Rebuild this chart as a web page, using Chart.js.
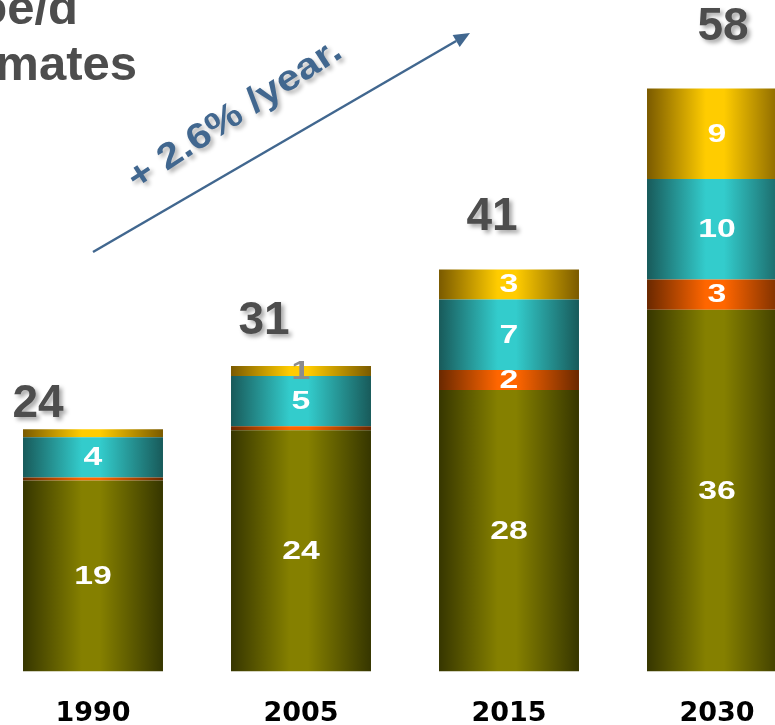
<!DOCTYPE html>
<html>
<head>
<meta charset="utf-8">
<script src="https://cdn.jsdelivr.net/npm/chart.js@4.4.0/dist/chart.umd.min.js"></script>
<style>
    html, body { margin: 0; padding: 0; overflow: hidden; background: #fff; width: 775px; height: 725px; }
    #wrap { position: absolute; left: -11px; top: 0; width: 832px; height: 756px; }
</style>
</head>
<body>
<div id="wrap"><canvas id="chart" width="832" height="756"></canvas></div>
<script>
// Stacked volumes per year (bottom to top)
const years = ['1990', '2005', '2015', '2030'];
const oliveVals = [19, 24, 28, 36];
const orangeVals = [0.3, 0.4, 2, 3];
const tealVals = [4, 5, 7, 10];
const goldVals = [0.8, 1, 3, 9];
const totalLabels = [24, 31, 41, 58];
const growthText = '+ 2.6% /year.';

const BAR_PCT = 0.673;
const SHIFT = 11; // canvas starts 11px left of the page
const LABEL_FONT = '"Liberation Sans", Arial, sans-serif';

// horizontal shading so each bar looks like a cylinder
function cylinder(dark, light) {
    return function(ctx) {
        const chart = ctx.chart;
        const xs = chart.scales.x;
        if (!xs || ctx.type !== 'data') {
            return light;
        }
        const cx = xs.getPixelForValue(ctx.dataIndex);
        const half = xs.width / years.length * BAR_PCT / 2;
        if (!isFinite(cx) || !isFinite(half) || half <= 0) {
            return light;
        }
        const g = chart.ctx.createLinearGradient(cx - half, 0, cx + half, 0);
        g.addColorStop(0, dark);
        g.addColorStop(0.42, light);
        g.addColorStop(0.55, light);
        g.addColorStop(1, dark);
        return g;
    };
}

// value inside each segment, total on top, plus title and growth arrow
const decorations = {
    id: 'decorations',
    afterDatasetsDraw(chart) {
        const ctx = chart.ctx;
        const ys = chart.scales.y;

        // segment values
        chart.data.datasets.forEach((ds, di) => {
            const meta = chart.getDatasetMeta(di);
            meta.data.forEach((bar, i) => {
                const v = ds.data[i];
                if (v < 1) return;
                const h = Math.abs(bar.base - bar.y);
                ctx.save();
                ctx.translate(bar.x, (bar.y + bar.base) / 2 + 1);
                ctx.scale(1.35, 1);
                ctx.font = 'bold 25px ' + LABEL_FONT;
                ctx.textAlign = 'center';
                ctx.textBaseline = 'middle';
                ctx.fillStyle = h < 16 ? '#8c8c8c' : '#ffffff';
                ctx.fillText(String(v), 0, 0);
                ctx.restore();
            });
        });

        // totals above the stacks
        const dx = [-55, -37, -17, 6];
        const dy = [25, 45, 52, 61];
        const lastMeta = chart.getDatasetMeta(chart.data.datasets.length - 1);
        years.forEach((y, i) => {
            let sum = 0;
            chart.data.datasets.forEach(ds => { sum += ds.data[i]; });
            const x = lastMeta.data[i].x + dx[i];
            const py = ys.getPixelForValue(sum) - dy[i];
            ctx.save();
            ctx.font = 'bold 46px ' + LABEL_FONT;
            ctx.textAlign = 'center';
            ctx.textBaseline = 'middle';
            ctx.shadowColor = 'rgba(0,0,0,0.35)';
            ctx.shadowBlur = 4;
            ctx.shadowOffsetX = 3;
            ctx.shadowOffsetY = 3;
            ctx.fillStyle = '#4d4d4d';
            ctx.fillText(String(totalLabels[i]), x, py);
            ctx.restore();
        });

        // title, partly off the left edge
        ctx.save();
        ctx.font = 'bold 49px ' + LABEL_FONT;
        ctx.fillStyle = '#4d4d4d';
        ctx.textAlign = 'right';
        ctx.textBaseline = 'alphabetic';
        ctx.fillText('Mboe/d', 78 + SHIFT, 24);
        ctx.fillText('estimates', 137 + SHIFT, 80);
        ctx.restore();

        // growth arrow
        const x0 = 93 + SHIFT, y0 = 252, x1 = 470 + SHIFT, y1 = 33;
        const ang = Math.atan2(y1 - y0, x1 - x0);
        const headLen = 16, headW = 7;
        const bx = x1 - headLen * Math.cos(ang), by = y1 - headLen * Math.sin(ang);
        ctx.save();
        ctx.strokeStyle = '#41678f';
        ctx.fillStyle = '#41678f';
        ctx.lineWidth = 2.5;
        ctx.beginPath();
        ctx.moveTo(x0, y0);
        ctx.lineTo(bx, by);
        ctx.stroke();
        ctx.beginPath();
        ctx.moveTo(x1, y1);
        ctx.lineTo(bx + headW * Math.sin(ang), by - headW * Math.cos(ang));
        ctx.lineTo(bx - headW * Math.sin(ang), by + headW * Math.cos(ang));
        ctx.closePath();
        ctx.fill();
        ctx.restore();

        ctx.save();
        ctx.translate(235 + SHIFT, 115);
        ctx.rotate(-33 * Math.PI / 180);
        ctx.scale(1.15, 1);
        ctx.font = 'bold 36px ' + LABEL_FONT;
        ctx.textAlign = 'center';
        ctx.textBaseline = 'middle';
        ctx.shadowColor = 'rgba(0,0,0,0.3)';
        ctx.shadowBlur = 4;
        ctx.shadowOffsetX = 3;
        ctx.shadowOffsetY = 3;
        ctx.fillStyle = '#41678f';
        ctx.fillText(growthText, 0, 0);
        ctx.restore();
    }
};

function makeChart() {
    const datasets = [
        { label: 'olive', data: oliveVals, backgroundColor: cylinder('#363600', '#858000') },
        { label: 'orange', data: orangeVals, backgroundColor: cylinder('#6a2800', '#ff6600') },
        { label: 'teal', data: tealVals, backgroundColor: cylinder('#185a5a', '#33cccc') },
        { label: 'gold', data: goldVals, backgroundColor: cylinder('#7a5a00', '#ffcc00') }
    ];
    datasets.forEach(ds => {
        ds.borderWidth = 0;
        ds.barPercentage = BAR_PCT;
        ds.categoryPercentage = 1;
    });

    new Chart(document.getElementById('chart'), {
        type: 'bar',
        data: { labels: years, datasets: datasets },
        options: {
            responsive: false,
            animation: false,
            layout: { padding: 0 },
            plugins: {
                legend: { display: false },
                tooltip: { enabled: false }
            },
            scales: {
                x: {
                    stacked: true,
                    grid: { display: false, drawTicks: false },
                    border: { display: false },
                    ticks: {
                        color: '#000',
                        padding: 26,
                        font: { family: '"DejaVu Sans", sans-serif', weight: 'bold', size: 27 }
                    }
                },
                y: {
                    stacked: true,
                    display: false,
                    min: 0,
                    max: 66.8
                }
            }
        },
        plugins: [decorations]
    });
}

document.addEventListener('DOMContentLoaded', makeChart);
</script>
</body>
</html>
